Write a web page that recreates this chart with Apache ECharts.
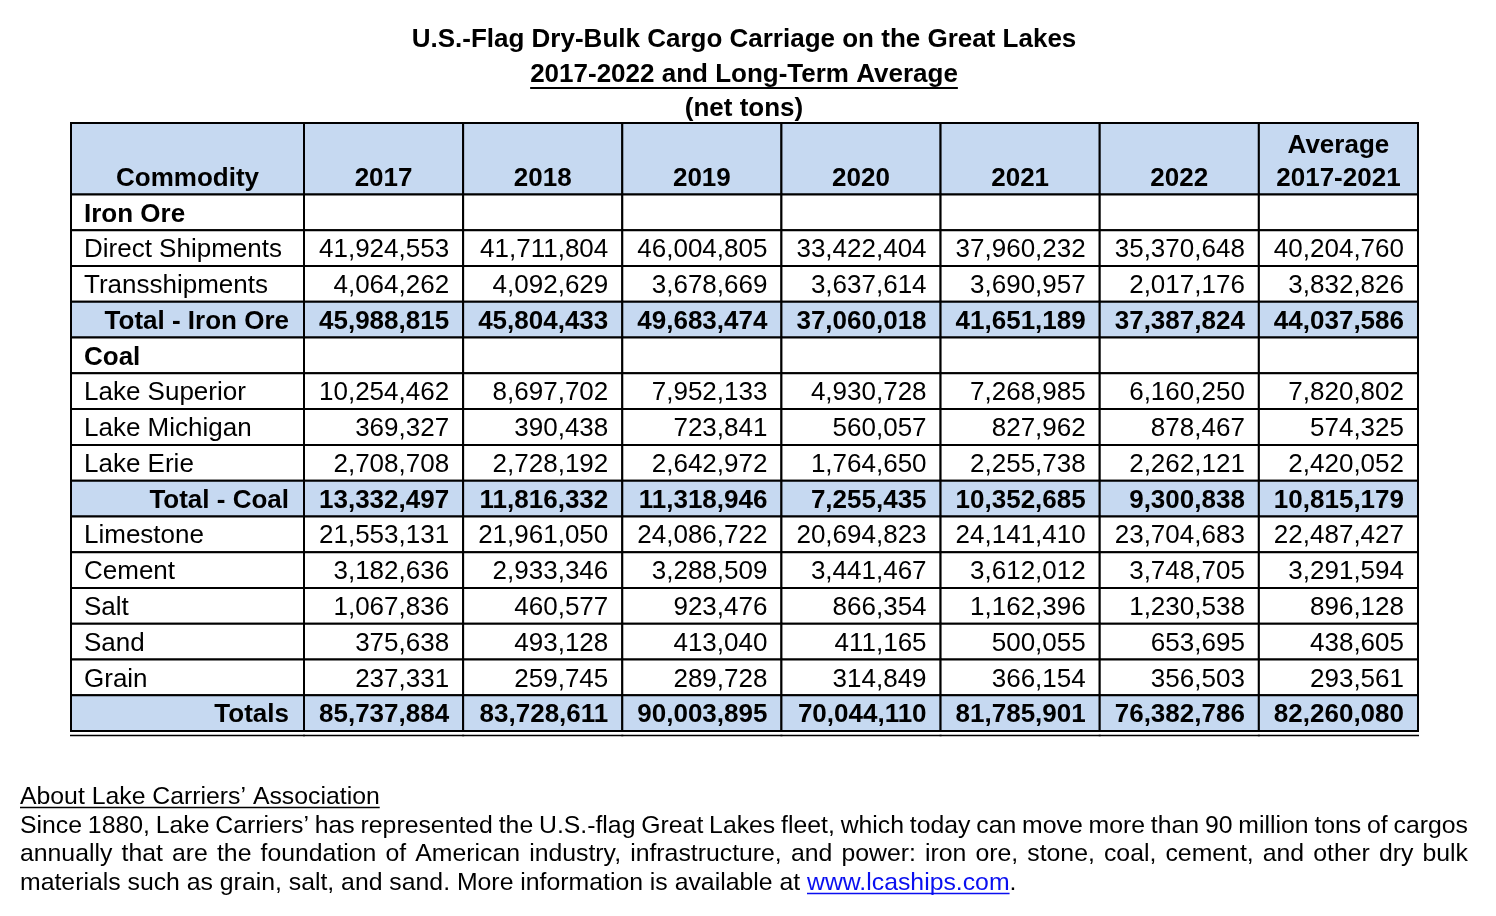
<!DOCTYPE html>
<html>
<head>
<meta charset="utf-8">
<title>U.S.-Flag Dry-Bulk Cargo Carriage on the Great Lakes</title>
<script src="https://cdn.jsdelivr.net/npm/echarts@6/dist/echarts.min.js"></script>
<style>
  html, body { margin: 0; padding: 0; background: #fff; }
  #chart { width: 1496px; height: 916px; }
</style>
</head>
<body>
<div id="chart"></div>
<script>
// Table columns and rows
const columns = ['2017', '2018', '2019', '2020', '2021', '2022', 'Average\n2017-2021'];
const rowLabels = [
  'Iron Ore', 'Direct Shipments', 'Transshipments', 'Total - Iron Ore',
  'Coal', 'Lake Superior', 'Lake Michigan', 'Lake Erie', 'Total - Coal',
  'Limestone', 'Cement', 'Salt', 'Sand', 'Grain', 'Totals'
];
// section = bold heading, item = plain, total = shaded bold
const rowKinds = [
  'section', 'item', 'item', 'total',
  'section', 'item', 'item', 'item', 'total',
  'item', 'item', 'item', 'item', 'item', 'grand'
];

// Net tons, one value per column
const directShipments = [41924553, 41711804, 46004805, 33422404, 37960232, 35370648, 40204760];
const transshipments  = [4064262, 4092629, 3678669, 3637614, 3690957, 2017176, 3832826];
const totalIronOre    = [45988815, 45804433, 49683474, 37060018, 41651189, 37387824, 44037586];
const lakeSuperior    = [10254462, 8697702, 7952133, 4930728, 7268985, 6160250, 7820802];
const lakeMichigan    = [369327, 390438, 723841, 560057, 827962, 878467, 574325];
const lakeErie        = [2708708, 2728192, 2642972, 1764650, 2255738, 2262121, 2420052];
const totalCoal       = [13332497, 11816332, 11318946, 7255435, 10352685, 9300838, 10815179];
const limestone       = [21553131, 21961050, 24086722, 20694823, 24141410, 23704683, 22487427];
const cement          = [3182636, 2933346, 3288509, 3441467, 3612012, 3748705, 3291594];
const salt            = [1067836, 460577, 923476, 866354, 1162396, 1230538, 896128];
const sand            = [375638, 493128, 413040, 411165, 500055, 653695, 438605];
const grain           = [237331, 259745, 289728, 314849, 366154, 356503, 293561];
const totals          = [85737884, 83728611, 90003895, 70044110, 81785901, 76382786, 82260080];

const rowValues = [
  null, directShipments, transshipments, totalIronOre,
  null, lakeSuperior, lakeMichigan, lakeErie, totalCoal,
  limestone, cement, salt, sand, grain, totals
];

const titleLines = [
  'U.S.-Flag Dry-Bulk Cargo Carriage on the Great Lakes',
  '2017-2022 and Long-Term Average',
  '(net tons)'
];
const aboutHeading = 'About Lake Carriers\u2019 Association';
const aboutLines = [
  'Since 1880, Lake Carriers\u2019 has represented the U.S.-flag Great Lakes fleet, which today can move more than 90 million tons of cargos',
  'annually that are the foundation of American industry, infrastructure, and power: iron ore, stone, coal, cement, and other dry bulk',
  'materials such as grain, salt, and sand. More information is available at'
];
const aboutLink = 'www.lcaships.com';

const FONT = '"Liberation Sans", Arial, Helvetica, sans-serif';
const SHADE = '#c6d9f1';
const TABLE_PX = 26;
const FOOT_PX = 24.8;

const measureCtx = document.createElement('canvas').getContext('2d');
function textWidth(text, font) {
  measureCtx.font = font;
  return measureCtx.measureText(text).width;
}

function fmt(n) {
  return String(n).replace(/\B(?=(\d{3})+(?!\d))/g, ',');
}

// header spans two row units, every body row one
const HEADER_SPAN = 2;
const labelCells = [{ value: [0, 0, HEADER_SPAN], text: 'Commodity', kind: 'header' }];
const dataCells = columns.map((c, i) => ({ value: [i, 0, HEADER_SPAN], text: c, kind: 'header' }));
rowLabels.forEach((label, r) => {
  const kind = rowKinds[r];
  labelCells.push({ value: [0, r + HEADER_SPAN, 1], text: label, kind });
  columns.forEach((c, i) => {
    const v = rowValues[r];
    dataCells.push({ value: [i, r + HEADER_SPAN, 1], text: v ? fmt(v[i]) : '', kind });
  });
});
const rowUnits = rowLabels.length + HEADER_SPAN;

function cellRenderer(cells, isLabel) {
  return function (params, api) {
    const cell = cells[params.dataIndex];
    const col = api.value(0), row = api.value(1), span = api.value(2);
    const top = api.coord([col, row]);
    const bottom = api.coord([col, row + span]);
    const w = api.size([1, 0])[0];
    const x0 = top[0] - w / 2, y0 = top[1], h = bottom[1] - top[1];
    const shaded = cell.kind === 'header' || cell.kind === 'total' || cell.kind === 'grand';
    const bold = cell.kind !== 'item';

    let textConfig;
    if (cell.kind === 'header') {
      textConfig = { position: 'insideBottom', distance: 0, offset: [0, 0] };
    } else if (isLabel && (cell.kind === 'total' || cell.kind === 'grand')) {
      textConfig = { position: 'insideRight', distance: 16, offset: [0, 2] };
    } else if (isLabel) {
      textConfig = { position: 'insideLeft', distance: 14, offset: [0, 2] };
    } else {
      textConfig = { position: 'insideRight', distance: 15, offset: [0, 2] };
    }

    const children = [{
      type: 'rect',
      shape: { x: x0, y: y0, width: w, height: h },
      style: { fill: shaded ? SHADE : '#fff', stroke: '#000', lineWidth: 2 },
      textContent: {
        style: {
          text: cell.text,
          fill: '#000',
          fontFamily: FONT,
          fontSize: TABLE_PX,
          fontWeight: bold ? 'bold' : 'normal',
          lineHeight: 33
        }
      },
      textConfig: textConfig
    }];
    // double rule under the totals row
    if (cell.kind === 'grand') {
      children.push({
        type: 'line',
        shape: { x1: x0 - 1, y1: y0 + h + 4.5, x2: x0 + w + 1, y2: y0 + h + 4.5 },
        style: { stroke: '#000', lineWidth: 1.6 }
      });
    }
    return { type: 'group', children: children };
  };
}

// title and footer text
const graphics = [];
const titleFont = 'bold 26px ' + FONT;
const titleY = [39.5, 74.5, 108.5];
titleLines.forEach((t, i) => {
  graphics.push({
    type: 'text', x: 744, y: titleY[i],
    style: { text: t, font: titleFont, fill: '#000', align: 'center', verticalAlign: 'middle' }
  });
});
const subW = textWidth(titleLines[1], titleFont);
graphics.push({
  type: 'line',
  shape: { x1: 744 - subW / 2, y1: 88, x2: 744 + subW / 2, y2: 88 },
  style: { stroke: '#000', lineWidth: 2 }
});

const footFont = FOOT_PX + 'px ' + FONT;
const footLeft = 20, footRight = 1468;
const footY = [797, 826, 854.5, 883];
graphics.push({
  type: 'text', x: footLeft, y: footY[0],
  style: { text: aboutHeading, font: footFont, fill: '#000', align: 'left', verticalAlign: 'middle' }
});
const headW = textWidth(aboutHeading, footFont);
graphics.push({
  type: 'line',
  shape: { x1: footLeft, y1: footY[0] + 10.5, x2: footLeft + headW, y2: footY[0] + 10.5 },
  style: { stroke: '#000', lineWidth: 1.5 }
});

// first two lines justified word by word
[0, 1].forEach(i => {
  const words = aboutLines[i].split(' ');
  const widths = words.map(wd => textWidth(wd, footFont));
  const used = widths.reduce((a, b) => a + b, 0);
  const gap = (footRight - footLeft - used) / (words.length - 1);
  let x = footLeft;
  words.forEach((wd, k) => {
    graphics.push({
      type: 'text', x: x, y: footY[i + 1],
      style: { text: wd, font: footFont, fill: '#000', align: 'left', verticalAlign: 'middle' }
    });
    x += widths[k] + gap;
  });
});

// last line, left aligned, ends with the link
const lastText = aboutLines[2] + ' ';
const lastW = textWidth(lastText, footFont);
graphics.push({
  type: 'text', x: footLeft, y: footY[3],
  style: { text: lastText, font: footFont, fill: '#000', align: 'left', verticalAlign: 'middle' }
});
const linkW = textWidth(aboutLink, footFont);
graphics.push({
  type: 'text', x: footLeft + lastW, y: footY[3],
  style: { text: aboutLink, font: footFont, fill: '#0a0ff0', align: 'left', verticalAlign: 'middle' }
});
graphics.push({
  type: 'line',
  shape: { x1: footLeft + lastW, y1: footY[3] + 10.5, x2: footLeft + lastW + linkW, y2: footY[3] + 10.5 },
  style: { stroke: '#0a0ff0', lineWidth: 1.5 }
});
graphics.push({
  type: 'text', x: footLeft + lastW + linkW, y: footY[3],
  style: { text: '.', font: footFont, fill: '#000', align: 'left', verticalAlign: 'middle' }
});

const chart = echarts.init(document.getElementById('chart'), null, { renderer: 'canvas' });

const option = {
  backgroundColor: '#fff',
  animation: false,
  grid: [
    { left: 71, width: 233, top: 123, height: 608 },
    { left: 304, width: 1114, top: 123, height: 608 }
  ],
  xAxis: [
    { type: 'category', gridIndex: 0, data: ['Commodity'], show: false },
    { type: 'category', gridIndex: 1, data: columns, show: false }
  ],
  yAxis: [
    { type: 'value', gridIndex: 0, min: 0, max: rowUnits, inverse: true, show: false },
    { type: 'value', gridIndex: 1, min: 0, max: rowUnits, inverse: true, show: false }
  ],
  series: [
    {
      type: 'custom', xAxisIndex: 0, yAxisIndex: 0,
      renderItem: cellRenderer(labelCells, true),
      data: labelCells.map(c => c.value),
      silent: true
    },
    {
      type: 'custom', xAxisIndex: 1, yAxisIndex: 1,
      renderItem: cellRenderer(dataCells, false),
      data: dataCells.map(c => c.value),
      silent: true
    }
  ],
  graphic: graphics
};

chart.setOption(option);
</script>
</body>
</html>
